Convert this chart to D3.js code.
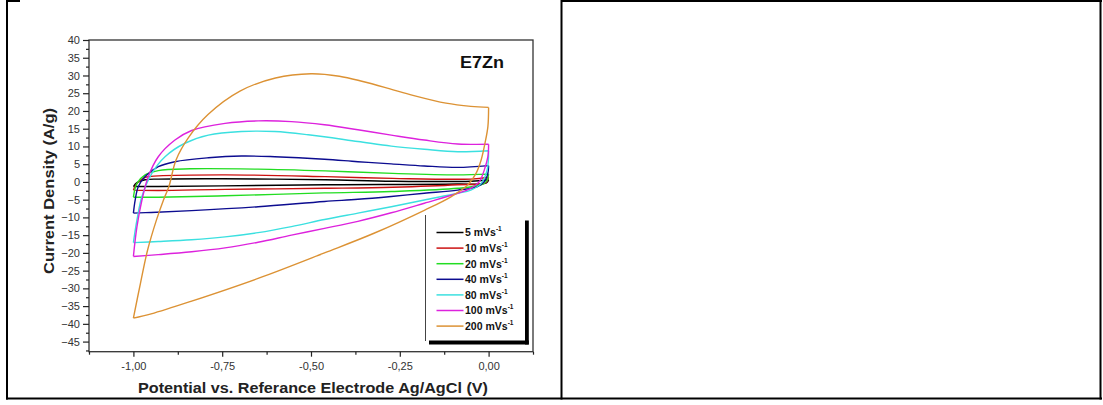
<!DOCTYPE html>
<html><head><meta charset="utf-8">
<script src="https://cdn.jsdelivr.net/npm/d3@7"></script>
<style>
html,body{margin:0;padding:0;background:#fff;}
svg{display:block;}
text{font-family:"Liberation Sans",Arial,sans-serif;}
</style></head>
<body>
<svg id="chart" width="1103" height="405"></svg>
<script>
// ---- data (potential V, current density A/g), forward sweep then reverse sweep ----
const cv5 = [[-1,-1.3],[-0.99,-0.2],[-0.967,0.6],[-0.93,0.8],[-0.75,0.9],[-0.46,0.6],[-0.27,0.2],[-0.05,0.2],[0,0.6],
  [-0.006,-0.3],[-0.09,-0.6],[-0.46,-0.8],[-0.75,-1.1],[-0.93,-1.3],[-1,-1.3]];
const cv10 = [[-1,-2.3],[-0.99,-0.4],[-0.967,1.3],[-0.93,1.7],[-0.74,2.0],[-0.46,1.5],[-0.27,1.0],[-0.05,0.8],[0,1.3],
  [-0.008,-0.2],[-0.087,-0.8],[-0.27,-1.5],[-0.46,-1.8],[-0.74,-2.1],[-0.93,-2.4],[-1,-2.3]];
const cv20 = [[-1,-4.3],[-0.99,-0.4],[-0.967,2.0],[-0.93,3.2],[-0.84,3.7],[-0.65,3.6],[-0.46,3.1],[-0.27,2.4],[-0.09,2.0],[0,2.2],
  [-0.005,0.3],[-0.021,-0.8],[-0.087,-1.8],[-0.274,-2.7],[-0.462,-3.1],[-0.742,-3.9],[-0.93,-4.3],[-1,-4.3]];
const cv40 = [[-1,-8.8],[-0.995,-5.1],[-0.986,-1.3],[-0.967,1.5],[-0.93,4.3],[-0.883,5.7],[-0.789,6.8],[-0.696,7.3],[-0.602,7.1],[-0.462,6.4],[-0.368,5.7],[-0.274,5.1],[-0.181,4.5],[-0.087,4.1],[0,4.6],
  [-0.003,2.0],[-0.012,0.1],[-0.031,-1.3],[-0.087,-2.3],[-0.181,-3.2],[-0.274,-4.1],[-0.368,-4.9],[-0.462,-5.5],[-0.649,-7.0],[-0.836,-8.1],[-0.95,-8.6],[-1,-8.8]];
const cv80 = [[-1,-17.1],[-0.99,-10.7],[-0.976,-4.1],[-0.948,2.4],[-0.911,7.1],[-0.855,10.9],[-0.789,13.2],[-0.696,14.2],[-0.602,14.2],[-0.508,13.3],[-0.368,11.4],[-0.274,10.1],[-0.181,9.2],[-0.087,8.5],[0,8.8],
  [-0.004,3.4],[-0.021,-0.4],[-0.05,-2.3],[-0.087,-3.2],[-0.181,-5.1],[-0.274,-7.0],[-0.368,-8.8],[-0.462,-10.6],[-0.555,-12.6],[-0.649,-14.3],[-0.742,-15.5],[-0.836,-16.3],[-0.93,-16.8],[-1,-17.1]];
const cv100 = [[-1,-21.0],[-0.99,-12.6],[-0.976,-5.1],[-0.958,1.5],[-0.93,7.1],[-0.883,11.8],[-0.836,14.5],[-0.742,16.5],[-0.649,17.2],[-0.555,17.0],[-0.462,16.1],[-0.368,14.7],[-0.274,13.2],[-0.181,11.8],[-0.087,10.7],[0,10.6],
  [-0.002,7.1],[-0.012,3.4],[-0.026,0.1],[-0.05,-1.8],[-0.087,-3.2],[-0.181,-6.0],[-0.274,-8.7],[-0.368,-11.1],[-0.462,-13.1],[-0.555,-15.0],[-0.649,-17.0],[-0.742,-18.6],[-0.836,-19.7],[-0.93,-20.5],[-1,-21.0]];
const cv200 = [[-1,-38.4],[-0.98,-28.5],[-0.96,-19.2],[-0.935,-10.7],[-0.915,-5],[-0.90,-1.3],[-0.88,6.2],[-0.845,12.5],[-0.79,19.0],[-0.70,25.6],[-0.60,29.3],[-0.50,30.5],[-0.42,29.8],[-0.354,28.3],[-0.28,26.3],[-0.213,24.4],[-0.12,22.2],[-0.05,21.3],[0,21.0],
  [-0.002,15.6],[-0.01,11],[-0.021,6.2],[-0.035,2.5],[-0.059,-0.9],[-0.106,-4.2],[-0.181,-8.0],[-0.321,-14.4],[-0.462,-20.0],[-0.649,-27.2],[-0.836,-33.6],[-0.95,-37.2],[-1,-38.4]];

const seriesLabels = ["5 mVs", "10 mVs", "20 mVs", "40 mVs", "80 mVs", "100 mVs", "200 mVs"];
const seriesData = [cv5, cv10, cv20, cv40, cv80, cv100, cv200];
const seriesColors = ["#000000", "#cc1111", "#22dd22", "#0c0c90", "#3be0e0", "#dd22dd", "#dc9234"];
const xTicks = [-1.0, -0.75, -0.5, -0.25, 0.0];
const xTickLabels = ["-1,00", "-0,75", "-0,50", "-0,25", "0,00"];
const yTicks = [40,35,30,25,20,15,10,5,0,-5,-10,-15,-20,-25,-30,-35,-40,-45];

// ---- layout ----
const svg = d3.select("#chart");
const L = 89, R = 533, T = 40, B = 351.7;
const x = d3.scaleLinear().domain([-1.125, 0.125]).range([L, R]);
const y = d3.scaleLinear().domain([-47.85, 40]).range([B, T]);

// outer table borders
const border = svg.append("g").attr("stroke", "#000").attr("stroke-width", 2).attr("fill", "none");
border.append("line").attr("x1", 7).attr("x2", 7).attr("y1", 0).attr("y2", 399.5);
border.append("line").attr("x1", 6).attr("x2", 1102).attr("y1", 398.5).attr("y2", 398.5);
border.append("line").attr("x1", 561.5).attr("x2", 561.5).attr("y1", 0).attr("y2", 399.5);
border.append("line").attr("x1", 1100.5).attr("x2", 1100.5).attr("y1", 0).attr("y2", 399.5);
border.append("line").attr("x1", 6).attr("x2", 20).attr("y1", 1).attr("y2", 1);
border.append("line").attr("x1", 561).attr("x2", 1102).attr("y1", 1).attr("y2", 1);

// curves: each loop split into forward (anodic) and reverse (cathodic) branch
const line = d3.line().x(d => x(d[0])).y(d => y(d[1])).curve(d3.curveCatmullRom.alpha(0.5));
function loopPath(data) {
  let k = 0;
  data.forEach((d, i) => { if (d[0] > data[k][0]) k = i; });
  return line(data.slice(0, k + 1)) + line(data.slice(k));
}
svg.append("g").selectAll("path").data(seriesData).join("path")
  .attr("d", loopPath).attr("fill", "none").attr("stroke-linejoin", "round")
  .attr("stroke", (d, i) => seriesColors[i]).attr("stroke-width", 1.4);

// plot frame
svg.append("rect").attr("x", L).attr("y", T).attr("width", R - L).attr("height", B - T)
  .attr("fill", "none").attr("stroke", "#333").attr("stroke-width", 1.3);

// y axis
const yAxis = d3.axisLeft(y).tickValues(yTicks).tickSize(6).tickPadding(3).tickFormat(d3.format("d"));
const gy = svg.append("g").attr("transform", `translate(${L},0)`).call(yAxis);
const yMinor = d3.range(-47.5, 40, 5);
const gyMinor = svg.append("g").attr("transform", `translate(${L},0)`)
  .call(d3.axisLeft(y).tickValues(yMinor).tickSize(3).tickFormat(""));

// x axis
const xAxis = d3.axisBottom(x).tickValues(xTicks).tickSize(5).tickPadding(6).tickFormat((d, i) => xTickLabels[i]);
const gx = svg.append("g").attr("transform", `translate(0,${B})`).call(xAxis);
const gxMinor = svg.append("g").attr("transform", `translate(0,${B})`)
  .call(d3.axisBottom(x).tickValues([-1.125, -0.875, -0.625, -0.375, -0.125, 0.125]).tickSize(3).tickFormat(""));

[gy, gyMinor, gx, gxMinor].forEach(g => {
  g.select(".domain").remove();
  g.selectAll(".tick line").attr("stroke", "#222").attr("stroke-width", 1.2);
  g.selectAll(".tick text").attr("fill", "#333").style("font-size", "11px").style("font-family", "'Liberation Sans', Arial, sans-serif");
});

// axis titles
svg.append("text").attr("x", 313).attr("y", 393).attr("text-anchor", "middle")
  .attr("font-weight", "bold").attr("font-size", 14.5).attr("fill", "#222")
  .attr("textLength", 350).attr("lengthAdjust", "spacingAndGlyphs")
  .text("Potential vs. Referance Electrode Ag/AgCl (V)");
svg.append("text").attr("transform", "translate(54,191) rotate(-90)").attr("text-anchor", "middle")
  .attr("font-weight", "bold").attr("font-size", 14.5).attr("fill", "#222")
  .attr("textLength", 166).attr("lengthAdjust", "spacingAndGlyphs")
  .text("Current Density (A/g)");

// sample title
svg.append("text").attr("x", 460).attr("y", 68).attr("font-weight", "bold").attr("font-size", 16.5)
  .attr("fill", "#111").attr("textLength", 44).attr("lengthAdjust", "spacingAndGlyphs").text("E7Zn");

// legend
const lg = svg.append("g");
lg.append("rect").attr("x", 525).attr("y", 220.5).attr("width", 3.8).attr("height", 124).attr("fill", "#000");
lg.append("rect").attr("x", 429).attr("y", 340.5).attr("width", 99.8).attr("height", 4).attr("fill", "#000");
lg.append("line").attr("x1", 425.5).attr("x2", 425.5).attr("y1", 215).attr("y2", 341).attr("stroke", "#444").attr("stroke-width", 1);
const rows = lg.selectAll("g.row").data(seriesLabels).join("g").attr("class", "row")
  .attr("transform", (d, i) => `translate(0,${232.5 + i * 15.6})`);
rows.append("line").attr("x1", 436.5).attr("x2", 463.5).attr("y1", 0).attr("y2", 0)
  .attr("stroke", (d, i) => seriesColors[i]).attr("stroke-width", 1.5);
const lt = rows.append("text").attr("x", 465).attr("y", 3.8).attr("font-weight", "bold").attr("font-size", 10.5).attr("fill", "#111");
lt.append("tspan").text(d => d);
lt.append("tspan").attr("dy", -5).attr("font-size", 6.5).text("-1");
</script>
</body></html>
